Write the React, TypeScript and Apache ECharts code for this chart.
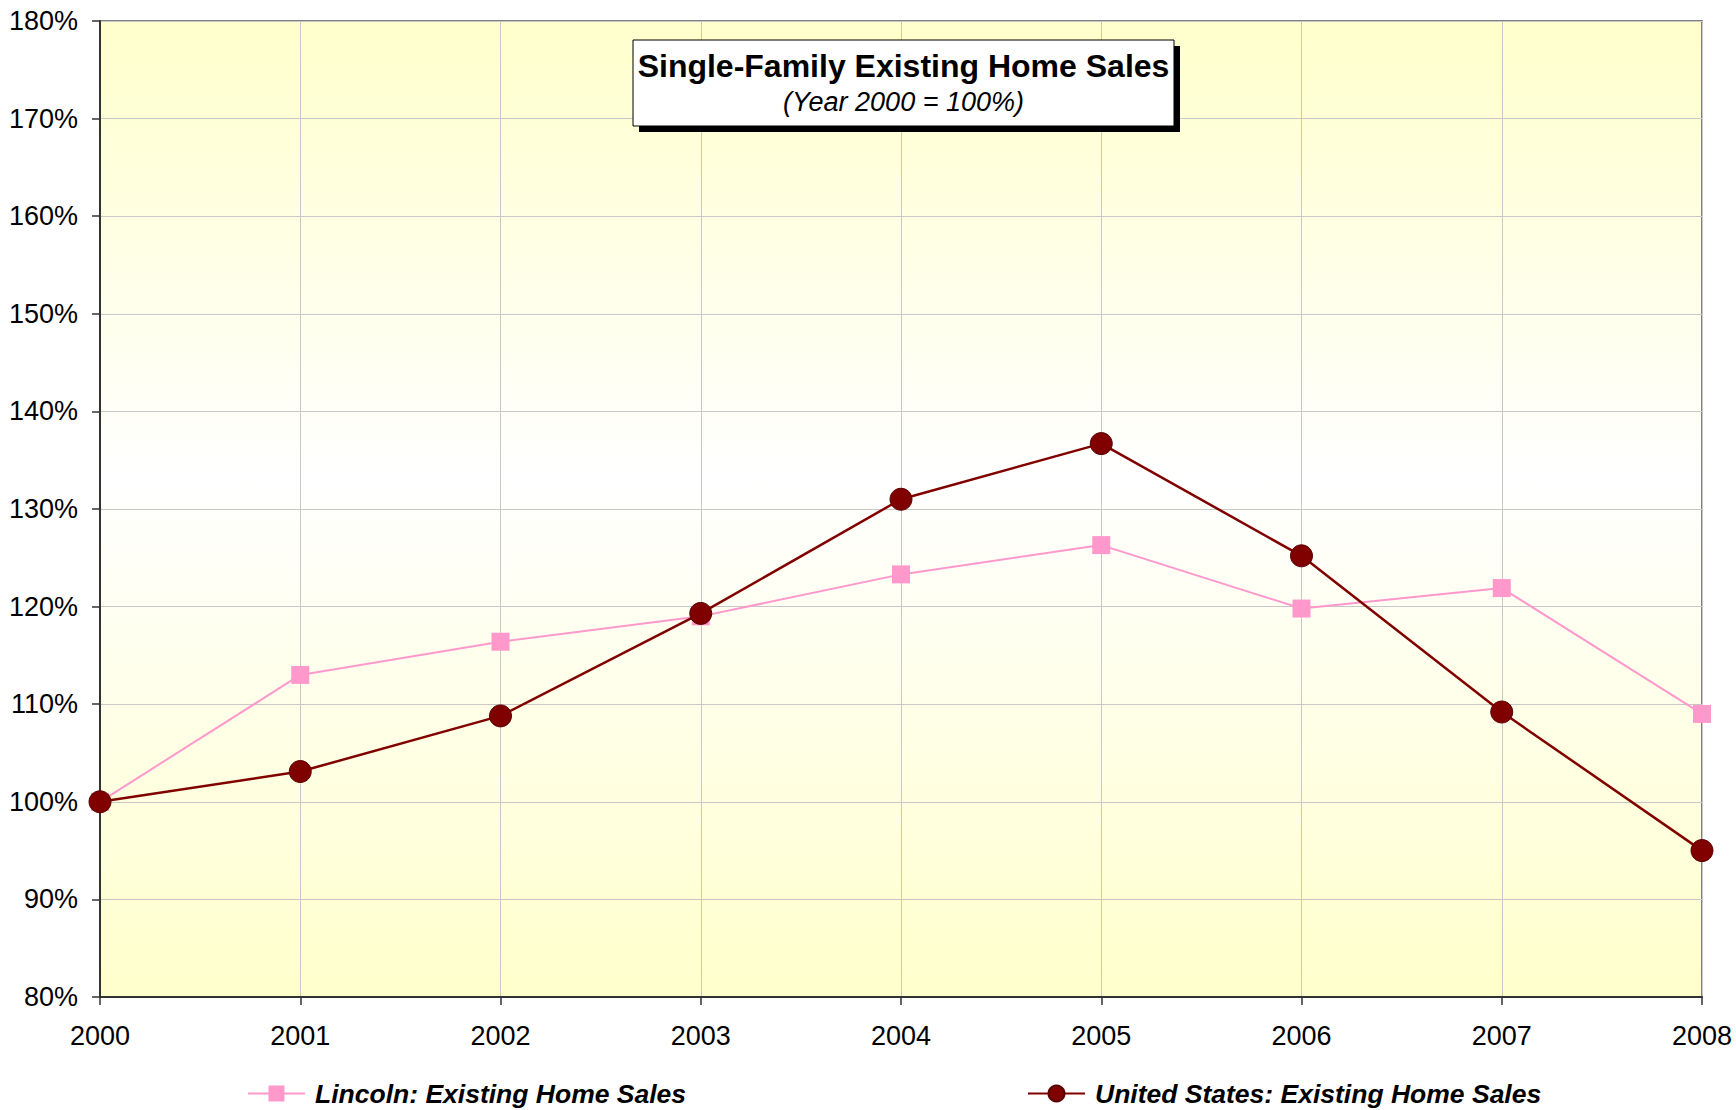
import React, { useEffect, useRef } from "react";
import * as echarts from "echarts";

const years = ["2000", "2001", "2002", "2003", "2004", "2005", "2006", "2007", "2008"];
const lincolnSales = [100, 113.0, 116.4, 119.0, 123.3, 126.3, 119.8, 121.9, 109.0];
const usSales = [100, 103.1, 108.8, 119.3, 131.0, 136.7, 125.2, 109.2, 95.0];
const seriesNames = ["Lincoln: Existing Home Sales", "United States: Existing Home Sales"];
const chartTitle = "Single-Family Existing Home Sales";
const chartSubtitle = "(Year 2000 = 100%)";

const FONT = "'Liberation Sans', Arial, sans-serif";

export default function App() {
  const ref = useRef<HTMLDivElement>(null);
  useEffect(() => {
    if (!ref.current) return;
    const chart = echarts.init(ref.current, null, { renderer: "svg" });
    const boxX = 633, boxY = 40, boxW = 541, boxH = 86;
    const legendText = {
      fontSize: 26.5,
      fontWeight: "bold",
      fontStyle: "italic",
      color: "#000",
      fontFamily: FONT,
      padding: [0, 0, 0, 5],
    };
    chart.setOption({
      animation: false,
      backgroundColor: "#ffffff",
      textStyle: { fontFamily: FONT },
      grid: {
        left: 100,
        right: 34,
        top: 21,
        bottom: 113,
        show: true,
        borderColor: "#808080",
        borderWidth: 2,
        backgroundColor: new echarts.graphic.LinearGradient(0, 0, 0, 1, [
          { offset: 0, color: "#FFFFCC" },
          { offset: 0.47, color: "#FFFFFF" },
          { offset: 1, color: "#FFFFCC" },
        ]),
      },
      legend: [
        {
          data: [seriesNames[0]],
          left: 247,
          top: 1080,
          itemWidth: 57,
          itemHeight: 20,
          padding: 0,
          textStyle: legendText,
        },
        {
          data: [seriesNames[1]],
          left: 1027,
          top: 1080,
          itemWidth: 57,
          itemHeight: 20,
          padding: 0,
          textStyle: legendText,
        },
      ],
      xAxis: {
        type: "category",
        data: years,
        boundaryGap: false,
        axisLine: { show: true, lineStyle: { color: "#333333", width: 2 } },
        axisTick: { show: true, length: 8, alignWithLabel: true, lineStyle: { color: "#333333", width: 1.5 } },
        axisLabel: { fontSize: 27, color: "#000", margin: 25, fontFamily: FONT },
        splitLine: { show: true, lineStyle: { color: "#C8C8C8", width: 1 } },
      },
      yAxis: {
        type: "value",
        min: 80,
        max: 180,
        interval: 10,
        axisLine: { show: true, lineStyle: { color: "#333333", width: 2 } },
        axisTick: { show: true, length: 8, lineStyle: { color: "#333333", width: 1.5 } },
        axisLabel: { fontSize: 27, color: "#000", margin: 22, formatter: "{value}%", fontFamily: FONT },
        splitLine: { show: true, lineStyle: { color: "#C8C8C8", width: 1 } },
      },
      series: [
        {
          name: seriesNames[0],
          type: "line",
          data: lincolnSales,
          symbol: "rect",
          symbolSize: 18,
          lineStyle: { color: "#FF99CC", width: 2 },
          itemStyle: { color: "#FF99CC" },
          z: 2,
        },
        {
          name: seriesNames[1],
          type: "line",
          data: usSales,
          symbol: "circle",
          symbolSize: 22,
          lineStyle: { color: "#800000", width: 2.5 },
          itemStyle: { color: "#800000", borderColor: "#5a0000", borderWidth: 1 },
          z: 3,
        },
      ],
      graphic: [
        { type: "rect", shape: { x: boxX + 6, y: boxY + 6, width: boxW, height: boxH }, style: { fill: "#000" }, z: 100 },
        { type: "rect", shape: { x: boxX, y: boxY, width: boxW, height: boxH }, style: { fill: "#fff", stroke: "#000", lineWidth: 1 }, z: 101 },
        {
          type: "text",
          x: boxX + boxW / 2,
          y: 66,
          z: 102,
          style: {
            text: chartTitle,
            fill: "#000",
            font: "bold 32px " + FONT,
            textAlign: "center",
            textVerticalAlign: "middle",
          },
        },
        {
          type: "text",
          x: boxX + boxW / 2,
          y: 102,
          z: 102,
          style: {
            text: chartSubtitle,
            fill: "#000",
            font: "italic 27px " + FONT,
            textAlign: "center",
            textVerticalAlign: "middle",
          },
        },
      ],
    });
    return () => chart.dispose();
  }, []);
  return (
    <div
      ref={ref}
      style={{ position: "fixed", left: 0, top: 0, width: 1736, height: 1110 }}
    />
  );
}
